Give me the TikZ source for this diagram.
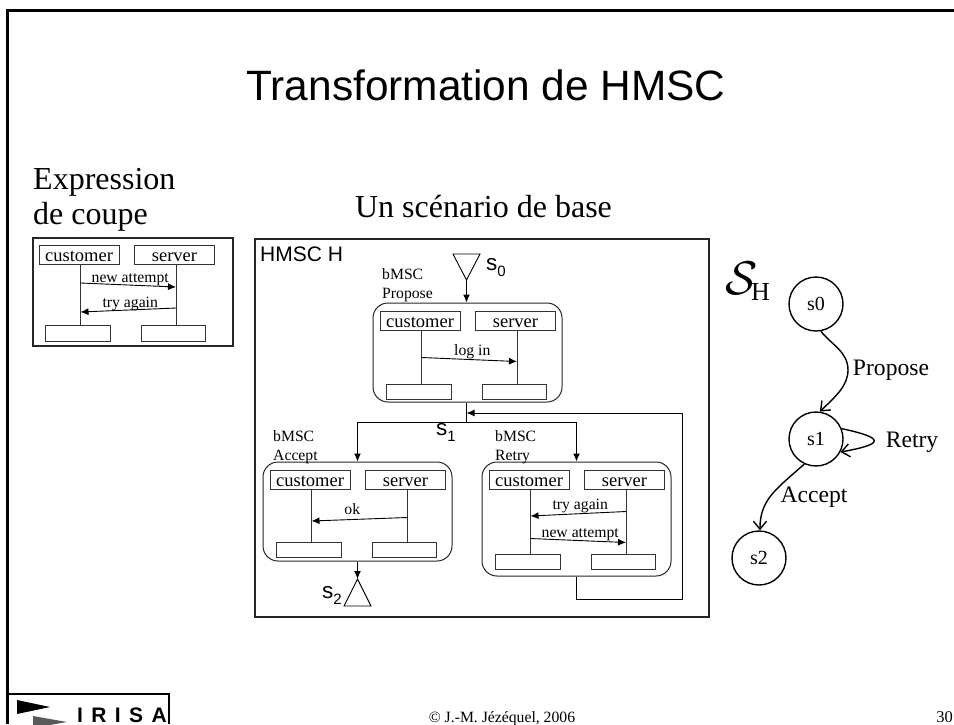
\documentclass[tikz,border=0pt]{standalone}
\usepackage{fontspec,graphicx}
\setmainfont{Liberation Serif}
\setsansfont{Liberation Sans}
\usetikzlibrary{arrows.meta, positioning}
\begin{document}
\begin{tikzpicture}
        [
        x=1pt, y=-1pt,
        node distance=60pt and 14.5pt,
            entete/.style={
                rectangle,
                draw=black!80,
                line width=1pt,
                minimum width=80pt,
                minimum height=19pt,
                inner sep=0pt,
                text height=13.4pt,
                text depth=0pt,
                font=\fontsize{18.5}{20}\selectfont
            },
            pied/.style={
                rectangle,
                draw=black!80,
                line width=1pt,
                minimum width=64.5pt,
                minimum height=15.5pt,
                inner sep=0pt
            },
            scenario/.style={
                rectangle,
                rounded corners=15pt,
                draw=black!85,
                line width=1pt,
                minimum width=189pt,
                inner sep=0pt
            },
            cadre/.style={
                rectangle,
                draw=black!85,
                line width=2pt,
                inner sep=0pt
            },
            etat/.style={
                circle,
                draw,
                line width=1.4pt,
                minimum size=54pt,
                inner sep=0pt,
                font=\fontsize{20}{22}\selectfont
            },
            petit/.style={
                inner sep=0pt,
                align=left,
                font=\fontsize{15.7}{19.7}\selectfont
            },
            grand/.style={
                inner sep=0pt,
                align=left,
                font=\fontsize{32}{35.5}\selectfont
            },
            moyen/.style={
                inner sep=0pt,
                font=\fontsize{23.6}{26}\selectfont
            },
            sans/.style={
                inner sep=0pt,
                font=\sffamily\fontsize{21}{24}\selectfont
            },
            marque/.style={
                inner sep=0pt,
                anchor=base west,
                font=\sffamily\fontsize{22.5}{26}\selectfont
            },
            ligneVie/.style={
                draw=black!80,
                line width=1pt
            },
            flecheMessage/.style={
                -{Latex[length=8pt,width=7pt]},
                line width=0.9pt
            },
            fleche/.style={
                -{Latex[length=8pt,width=7pt]},
                line width=1pt
            },
            flecheEtat/.style={
                -{Straight Barb[length=8pt,width=13pt]},
                line width=1.4pt
            }
        ]
        \newcommand{\indice}[1]{\raisebox{-6pt}{\fontsize{15}{16}\selectfont #1}}
        \useasboundingbox (0,0) rectangle (954,724);
        \draw[line width=3pt] (7,724)--(7,10)--(954,10);
        \node(titre) [inner sep=0pt, anchor=base, font=\sffamily\fontsize{42.4}{48}\selectfont] at (486,100) {Transformation de HMSC};

        \node(expression) [grand, anchor=north west] at (33,168) {Expression\\de coupe};
        \node(base) [grand] at (483.5,207) {Un scénario de base};

        \node(coupe) [cadre, minimum width=200pt, minimum height=108pt] at (133,292) {};
        \node(clientC) [entete] at (79,255) {customer};
        \node(serveurC) [entete, right=of clientC] {server};
        \node(piedClientC) [pied, below=of clientC, xshift=-1pt] {};
        \node(piedServeurC) [pied, below=of serveurC, xshift=-1pt] {};
        \draw[ligneVie] ([xshift=1.5pt]clientC.south)--([xshift=2.5pt]piedClientC.north);
        \draw[ligneVie] ([xshift=1.5pt]serveurC.south)--([xshift=2.5pt]piedServeurC.north);
        \draw[flecheMessage] ([xshift=1.5pt,yshift=-18pt]clientC.south)--([xshift=1.5pt,yshift=-22pt]serveurC.south)
            node(nouvelleC) [petit, midway, above=-1.5pt, xshift=2pt] {new attempt};
        \draw[flecheMessage] ([xshift=1.5pt,yshift=-43pt]serveurC.south)--([xshift=1.5pt,yshift=-47pt]clientC.south)
            node(encoreC) [petit, midway, above=-1.5pt, xshift=2pt] {try again};

        \node(hmsc) [cadre, minimum width=454pt, minimum height=378pt] at (482,428) {};
        \node(nomHmsc) [sans, anchor=west] at (260,254) {HMSC H};

        \node(propose) [scenario, minimum height=99pt] at (467.5,352.5) {};
        \node(nomPropose) [petit, anchor=north west] at (382,268) {bMSC\\Propose};
        \coordinate (pointeZero) at (466.5,280);
        \draw[line width=0.9pt] (453,254)--(480,254)--(pointeZero)--cycle;
        \node(sZero) [marque] at (486,270) {s\indice{0}};
        \draw[fleche] (pointeZero)--(pointeZero |- propose.north);
        \node(clientP) [entete] at (420,320.5) {customer};
        \node(serveurP) [entete, right=of clientP] {server};
        \node(piedClientP) [pied, below=of clientP, xshift=-1pt, yshift=7pt] {};
        \node(piedServeurP) [pied, below=of serveurP, xshift=-1pt, yshift=7pt] {};
        \draw[ligneVie] ([xshift=1.5pt]clientP.south)--([xshift=2.5pt]piedClientP.north);
        \draw[ligneVie] ([xshift=1.5pt]serveurP.south)--([xshift=2.5pt]piedServeurP.north);
        \draw[flecheMessage] ([xshift=1.5pt,yshift=-27pt]clientP.south)--([xshift=1.5pt,yshift=-31pt]serveurP.south)
            node(connexion) [petit, midway, above=0pt, xshift=3pt] {log in};

        \coordinate (jonction) at (466.5,422.5);
        \coordinate (retour) at (466.5,413);
        \coordinate (coinBoucle) at (682,599);
        \node(sUn) [marque] at (436,435) {s\indice{1}};

        \node(accept) [scenario, minimum height=99pt] at (357.5,511.5) {};
        \node(nomAccept) [petit, anchor=north west] at (273,430) {bMSC\\Accept};
        \node(clientA) [entete] at (310,479.5) {customer};
        \node(serveurA) [entete, right=of clientA] {server};
        \node(piedClientA) [pied, below=of clientA, xshift=-1pt, yshift=8pt] {};
        \node(piedServeurA) [pied, below=of serveurA, xshift=-1pt, yshift=8pt] {};
        \draw[ligneVie] ([xshift=1.5pt]clientA.south)--([xshift=2.5pt]piedClientA.north);
        \draw[ligneVie] ([xshift=1.5pt]serveurA.south)--([xshift=2.5pt]piedServeurA.north);
        \draw[flecheMessage] ([xshift=1.5pt,yshift=-28pt]serveurA.south)--([xshift=1.5pt,yshift=-31.5pt]clientA.south)
            node(okA) [petit, midway, above=4.5pt, xshift=-7pt] {ok};
        \coordinate (pointeDeux) at (357.5,579);
        \draw[line width=0.9pt] (pointeDeux)--(344,606)--(371,606)--cycle;
        \draw[fleche] (accept.south)--(pointeDeux);
        \node(sDeux) [marque] at (322,598) {s\indice{2}};

        \node(retry) [scenario, minimum height=114pt] at (576.5,519) {};
        \node(nomRetry) [petit, anchor=north west] at (495,430) {bMSC\\Retry};
        \node(clientR) [entete] at (529,479.5) {customer};
        \node(serveurR) [entete, right=of clientR] {server};
        \node(piedClientR) [pied, below=of clientR, xshift=-1pt, yshift=-4pt] {};
        \node(piedServeurR) [pied, below=of serveurR, xshift=-1pt, yshift=-4pt] {};
        \draw[ligneVie] ([xshift=1.5pt]clientR.south)--([xshift=2.5pt]piedClientR.north);
        \draw[ligneVie] ([xshift=1.5pt]serveurR.south)--([xshift=2.5pt]piedServeurR.north);
        \draw[flecheMessage] ([xshift=1.5pt,yshift=-22pt]serveurR.south)--([xshift=1.5pt,yshift=-26.5pt]clientR.south)
            node(encoreR) [petit, midway, above=0pt, xshift=2pt] {try again};
        \draw[flecheMessage] ([xshift=1.5pt,yshift=-49pt]clientR.south)--([xshift=1.5pt,yshift=-53pt]serveurR.south)
            node(nouvelleR) [petit, midway, above=-0.5pt, xshift=2pt] {new attempt};

        \draw[line width=1pt] (jonction |- propose.south)--(jonction);
        \draw[fleche] (jonction)-|(accept.north);
        \draw[fleche] (jonction)-|(retry.north);
        \draw[fleche] (retry.south)|-(coinBoucle)|-(retour);

        \node(nomS) [inner sep=0pt, anchor=base west, font=\fontsize{46}{50}\selectfont] at (725,294) {\scalebox{1.9}{$\mathcal{S}$}};
        \node(nomH) [inner sep=0pt, anchor=base west, font=\fontsize{26}{28}\selectfont] at (751,300) {H};
        \node(etatZero) [etat] at (816,304) {s0};
        \node(etatUn) [etat] at (816,439) {s1};
        \node(etatDeux) [etat] at (759,558) {s2};
        \coordinate (ventre) at (848,370);
        \draw[flecheEtat] (etatZero.-80) .. controls (832,345) and (848,352) .. (ventre) .. controls (848,386) and (835,397) .. (etatUn.82);
        \draw[flecheEtat] (etatUn.22) .. controls (885,438) and (885,444) .. (etatUn.-28);
        \draw[flecheEtat] (etatUn.-115) .. controls (775,490) and (760,500) .. (etatDeux.88);
        \node(proposeLabel) [moyen] at (891,370) {Propose};
        \node(retryLabel) [moyen] at (912,442) {Retry};
        \node(acceptLabel) [moyen] at (814,497) {Accept};

        \draw[line width=1.5pt] (7,694)--(169,694)--(169,724);
        \fill (17,700)--(50,707)--(17,714)--cycle;
        \fill[black!65] (33,716)--(67,722)--(33,728)--cycle;
        \node(irisa) [inner sep=0pt, anchor=base west, text height=15pt, text depth=0pt, font=\sffamily\bfseries\addfontfeature{LetterSpace=40}\fontsize{21}{24}\selectfont] at (77,722) {IRISA};
        \node(auteur) [petit, anchor=base] at (502,722) {© J.-M. Jézéquel, 2006};
        \node(numero) [inner sep=0pt, anchor=base east, font=\fontsize{16.5}{20}\selectfont] at (953,722) {30};
    \end{tikzpicture}
\end{document}
